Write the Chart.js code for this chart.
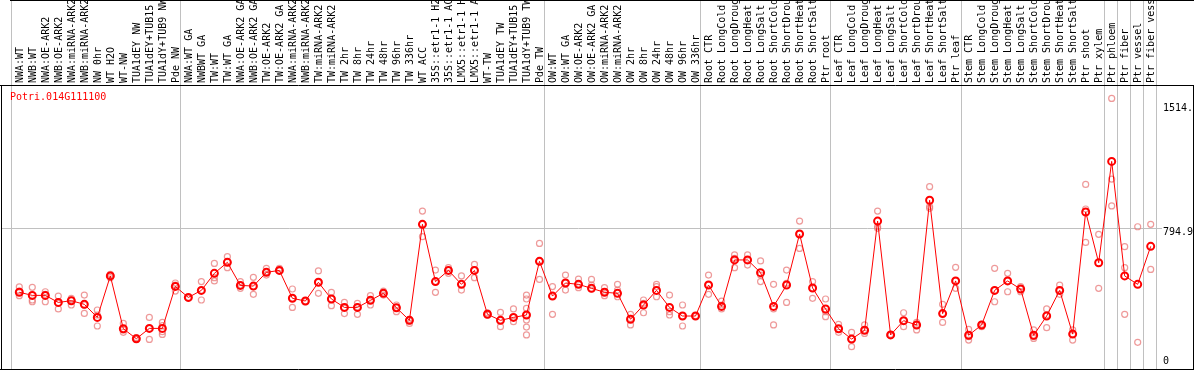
<!DOCTYPE html>
<html><head><meta charset="utf-8">
<script src="https://cdn.jsdelivr.net/npm/chart.js@4/dist/chart.umd.min.js"></script>
<style>html,body{margin:0;padding:0;background:#fff}#wrap{width:1194px;height:370px;position:relative}</style>
</head><body><div id="wrap"><canvas id="c" width="1194" height="370"></canvas></div>
<script>
const geneId = 'Potri.014G111100';
const categories = [
 'NWA:WT','NWB:WT','NWA:OE-ARK2','NWB:OE-ARK2','NWA:miRNA-ARK2','NWB:miRNA-ARK2','NW 0hr','WT H2O','WT-NW','TUA1dEY NW',
 'TUA1dEY+TUB15 NW','TUA1dY+TUB9 NW','Pde NW','NWA:WT GA','NWBWT GA','TW:WT','TW:WT GA','NWA:OE-ARK2 GA','NWB:OE-ARK2 GA','TW:OE-ARK2',
 'TW:OE-ARK2 GA','NWA:miRNA-ARK2 GA','NWB:miRNA-ARK2 GA','TW:miRNA-ARK2','TW:miRNA-ARK2 GA','TW 2hr','TW 8hr','TW 24hr','TW 48hr','TW 96hr',
 'TW 336hr','WT ACC','35S::etr1-1 H2O','35S::etr1-1 ACC','LMX5::etr1-1 H2O','LMX5::etr1-1 ACC','WT-TW','TUA1dEY TW','TUA1dEY+TUB15 TW','TUA1dY+TUB9 TW',
 'Pde TW','OW:WT','OW:WT GA','OW:OE-ARK2','OW:OE-ARK2 GA','OW:miRNA-ARK2','OW:miRNA-ARK2 GA','OW 2hr','OW 8hr','OW 24hr',
 'OW 48hr','OW 96hr','OW 336hr','Root CTR','Root LongCold','Root LongDrought','Root LongHeat','Root LongSalt','Root ShortCold','Root ShortDrought',
 'Root ShortHeat','Root ShortSalt','Ptr root','Leaf CTR','Leaf LongCold','Leaf LongDrought','Leaf LongHeat','Leaf LongSalt','Leaf ShortCold','Leaf ShortDrought',
 'Leaf ShortHeat','Leaf ShortSalt','Ptr leaf','Stem CTR','Stem LongCold','Stem LongDrought','Stem LongHeat','Stem LongSalt','Stem ShortCold','Stem ShortDrought',
 'Stem ShortHeat','Stem ShortSalt','Ptr shoot','Ptr xylem','Ptr phloem','Ptr fiber','Ptr vessel','Ptr fiber vessel'
];
const means = [
 423,405,405,364,374,353,277,518,211,153,
 213,213,457,393,434,533,597,463,459,539,
 550,388,372,481,384,335,335,376,417,333,
 260,818,485,550,469,550,295,260,277,291,
 603,401,477,469,446,423,417,266,349,434,
 335,285,285,465,341,611,611,537,341,465,
 762,448,326,211,151,202,837,175,258,233,
 958,299,489,173,233,434,489,442,173,285,
 434,180,890,595,1184,518,469,690
];
const replicates = [
 [454,430,403],[452,378,368],[426,411,368],[401,359,326],[388,378,349],[407,349,300],[320,291,227],[527,519,508],[242,204,190],[159,155,149],
 [277,213,149],[248,229,194,178],[477,465,430],[393,388],[485,434,378],[591,508,489],[630,601,566],[485,465,446],[510,456,411],[562,543,523],
 [562,550,547],[442,388,335],[372,368],[547,481,417],[423,384,345],[364,335,299],[359,339,295],[403,376,349],[430,417,407],[349,333,310],
 [266,256,242],[895,818,746],[552,485,423],[566,550,533],[518,469,436],[585,550,508],[304,295,291],[306,260,223],[326,277,252],[407,384,330,291,262,221,175],
 [707,603,498],[456,401,295],[523,477,436],[500,469,450],[498,465,442],[450,426,403],[469,436,397],[295,271,233],[378,359,304],[469,456,397],
 [407,310,291],[349,285,227],[287,283],[523,465,411],[372,349,326],[640,620,566],[640,611,581],[605,523,485],[469,326,233],[552,475,364],
 [837,762,678],[485,446,388],[384,310,281],[237,211,190],[190,151,107],[233,202,184],[895,804,795],[178,173,175],[304,258,223],[248,233,204],
 [1037,921,911],[353,299,248],[568,489,446],[207,165,145],[237,233,223],[562,434,368],[533,489,426],[456,442,426],[204,165,155],[326,291,217],
 [465,434,411],[204,180,145],[1050,907,713],[760,446],[1550,1081,925],[688,566,295],[804,132],[818,556]
];
const groupEnds = [0,13,41,53,63,73,84,85,86,87,88];
const yTickValues = [0, 794.9, 1514.4];
const yTickLabels = ['0', '794.9', '1514.4'];

const sepValues = groupEnds.map(b => b - 0.585);
const xTickValues = categories.map((_, i) => i).concat(sepValues).sort((a, b) => a - b);
const isSep = v => sepValues.some(s => Math.abs(s - v) < 1e-6);
const MONO = 'DejaVu Sans Mono';

const framePlugin = {
  id: 'frame',
  afterDraw(chart) {
    const ctx = chart.ctx, a = chart.chartArea;
    ctx.save();
    ctx.strokeStyle = '#000';
    ctx.lineWidth = 1;
    ctx.beginPath();
    ctx.moveTo(10, 0.5); ctx.lineTo(1194, 0.5);
    ctx.moveTo(0, a.top + 0.5); ctx.lineTo(1194, a.top + 0.5);
    ctx.moveTo(0, a.bottom + 0.5); ctx.lineTo(1194, a.bottom + 0.5);
    ctx.moveTo(1.5, a.top); ctx.lineTo(1.5, 370);
    ctx.moveTo(1193.5, a.top); ctx.lineTo(1193.5, 370);
    ctx.stroke();
    ctx.fillStyle = '#ff0000';
    ctx.font = '10px "' + MONO + '"';
    ctx.textBaseline = 'alphabetic';
    ctx.textAlign = 'left';
    ctx.fillText(geneId, 10, 99.5);
    ctx.restore();
  }
};

new Chart(document.getElementById('c'), {
  type: 'line',
  data: {
    datasets: [
      {
        label: 'mean',
        data: means.map((v, i) => ({x: i, y: v})),
        borderColor: '#ff0000',
        borderWidth: 1,
        pointRadius: 3.5,
        pointBorderWidth: 2,
        pointBorderColor: '#ff0000',
        pointBackgroundColor: 'rgba(0,0,0,0)',
        tension: 0
      },
      {
        label: 'replicates',
        data: replicates.flatMap((arr, i) => arr.map(v => ({x: i, y: v}))),
        showLine: false,
        pointRadius: 3,
        pointBorderWidth: 1.2,
        pointBorderColor: 'rgba(232,120,120,0.75)',
        pointBackgroundColor: 'rgba(0,0,0,0)'
      }
    ]
  },
  options: {
    responsive: false,
    animation: false,
    devicePixelRatio: 1,
    layout: {autoPadding: false, padding: {left: 1, right: 0, top: 0, bottom: 1}},
    plugins: {legend: {display: false}, tooltip: {enabled: false}, title: {display: false}},
    scales: {
      x: {
        type: 'linear', position: 'top', min: -1.407, max: 87.4075,
        afterBuildTicks(s) { s.ticks = xTickValues.map(v => ({value: v})); },
        afterFit(s) { s.height = 85; s.paddingLeft = 0; s.paddingRight = 0; },
        ticks: {
          autoSkip: false, minRotation: 90, maxRotation: 90, padding: -83, labelOffset: 13,
          color: '#000', font: {family: MONO, size: 10},
          callback: v => (Number.isInteger(v) && v >= 0 && v < categories.length) ? categories[v] : ''
        },
        grid: {
          drawOnChartArea: true, drawTicks: true, tickLength: 85, lineWidth: 1,
          color: ctx => (ctx.tick && isSep(ctx.tick.value)) ? '#c0c0c0' : 'rgba(0,0,0,0)'
        },
        border: {display: false}
      },
      y: {
        type: 'linear', position: 'right', min: -23, max: 1628,
        afterBuildTicks(s) { s.ticks = yTickValues.map(v => ({value: v})); },
        afterFit(s) { s.width = 38; s.paddingTop = 0; s.paddingBottom = 0; },
        ticks: {
          padding: 1, color: '#000', font: {family: MONO, size: 10, lineHeight: 0.8},
          callback: (v, i) => i === 0 ? [yTickLabels[i], ''] : ['', yTickLabels[i]]
        },
        grid: {
          tickLength: 6, lineWidth: 1,
          color: ctx => (ctx.tick && ctx.tick.value === 794.9) ? '#c0c0c0' : 'rgba(0,0,0,0)'
        },
        border: {display: false}
      }
    }
  },
  plugins: [framePlugin]
});
</script>
</body></html>
